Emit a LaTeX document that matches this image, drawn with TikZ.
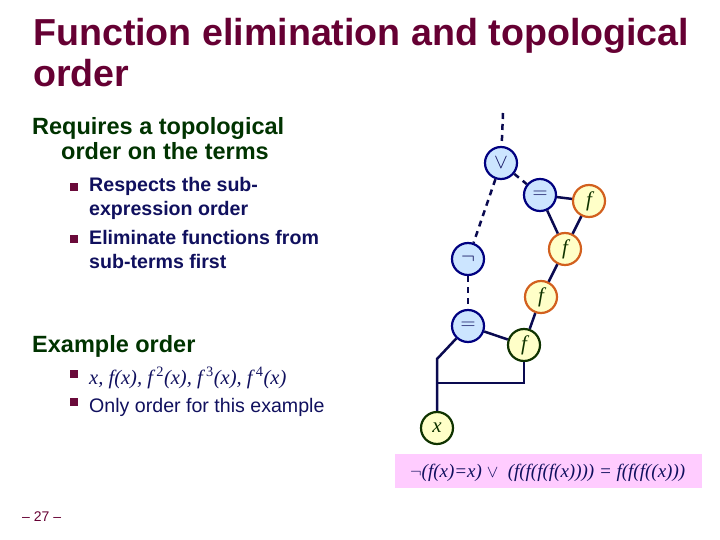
\documentclass[tikz,border=0pt]{standalone}
\usepackage{fontspec}
\setmainfont{Liberation Sans}
\newfontfamily\timesfont{Liberation Serif}
\usepackage{xcolor}
\definecolor{titlecol}{HTML}{660033}
\definecolor{headcol}{HTML}{003300}
\definecolor{itemcol}{HTML}{10105E}
\definecolor{bulcol}{HTML}{6A0A3A}
\definecolor{opline}{HTML}{000080}
\definecolor{opfill}{HTML}{CCE5FF}
\definecolor{fline}{HTML}{D2601E}
\definecolor{ffill}{HTML}{FFFFC8}
\definecolor{leafcol}{HTML}{0F3300}
\definecolor{edgecol}{HTML}{0A0A50}
\definecolor{formfill}{HTML}{FFCCFF}
\usepackage{tikz}
\usetikzlibrary{positioning}

\begin{document}
\begin{tikzpicture}[x=1pt,y=-1pt,
    every node/.style={inner sep=0pt},
    txt/.style={anchor=base west},
    ttl/.style={txt, text=titlecol, font=\fontsize{37.6}{42}\selectfont\bfseries},
    head/.style={txt, text=headcol, font=\fontsize{23.5}{26}\selectfont\bfseries},
    item/.style={txt, text=itemcol, font=\fontsize{19.6}{22}\selectfont\bfseries},
    bul/.style={fill=bulcol, minimum size=8pt},
    opnode/.style={circle, draw=opline, fill=opfill, line width=2.2pt,
                   minimum size=32pt, text=itemcol, font=\fontsize{22}{22}\selectfont},
    fnode/.style={opnode, draw=fline, fill=ffill, text=leafcol,
                  font=\fontsize{21}{21}\selectfont\timesfont\itshape},
    leaf/.style={fnode, draw=leafcol},
    link/.style={draw=edgecol, line width=2.5pt},
    dlink/.style={link, dash pattern=on 6pt off 5pt}]
  \useasboundingbox (0,0) rectangle (720,540);
  % title and text
  \node[ttl] (t1) at (33,46) {Function elimination and topological};
  \node[ttl] (t2) at (33,87) {order};
  \node[head] (h1) at (32,135) {Requires a topological};
  \node[head] (h2) at (61,160) {order on the terms};
  \node[bul] (b1) at (74,187) {};
  \node[item] (i1) at (89,192) {Respects the sub-};
  \node[item] (i1b) at (89,215) {expression order};
  \node[bul] (b2) at (74,239) {};
  \node[item] (i2) at (89,244) {Eliminate functions from};
  \node[item] (i2b) at (89,268) {sub-terms first};
  \node[head] (h3) at (32,352) {Example order};
  \node[bul] (b3) at (74,374) {};
  \node[txt, text=itemcol, font=\fontsize{20.5}{22}\selectfont\timesfont\itshape] (i3) at (89,384)
    {x, f(x), f\,\textsuperscript{\upshape 2}(x), f\,\textsuperscript{\upshape 3}(x), f\,\textsuperscript{\upshape 4}(x)};
  \node[bul] (b4) at (74,402) {};
  \node[txt, text=itemcol, font=\fontsize{19.6}{22}\selectfont] (i4) at (89,412) {Only order for this example};
  \node[txt, text=titlecol, font=\fontsize{14}{15}\selectfont] (pg) at (22,521) {-- 27 --};
  % formula
  \fill[formfill] (395,454) rectangle (702,488);
  \node[txt, text=itemcol, font=\fontsize{19}{22}\selectfont\timesfont\itshape] (fm) at (410,477)
    {$\neg$(f(x)=x) $\vee$\ \ (f(f(f(f(x)))) = f(f(f((x)))};
  % term graph
  \coordinate (top) at (503,113);
  \node[opnode] (or) at (501,163) {$\vee$};
  \node[opnode] (eq1) at (540,195) {$=$};
  \node[fnode] (f1) at (589,201) {f};
  \node[fnode] (f2) at (565,249) {f};
  \node[opnode] (neg) at (468,259) {$\neg$};
  \node[fnode] (f3) at (541,297) {f};
  \node[opnode] (eq2) at (468,326) {$=$};
  \node[leaf] (f4) at (524,345) {f};
  \node[leaf] (x) at (437,428) {x};
  \coordinate (c1) at (437,359);
  \coordinate (c2) at (437,383);
  \draw[dlink] (top) -- (or);
  \draw[dlink] (or) -- (eq1);
  \draw[dlink] (or) -- (neg);
  \draw[dlink] (neg) -- (eq2);
  \draw[link] (eq1) -- (f1);
  \draw[link] (eq1) -- (f2);
  \draw[link] (f1) -- (f2);
  \draw[link] (f2) -- (f3);
  \draw[link] (f3) -- (f4);
  \draw[link] (eq2) -- (f4);
  \draw[link] (eq2) -- (c1) -- (x);
  \draw[link] (f4) |- (c2);
\end{tikzpicture}
\end{document}
